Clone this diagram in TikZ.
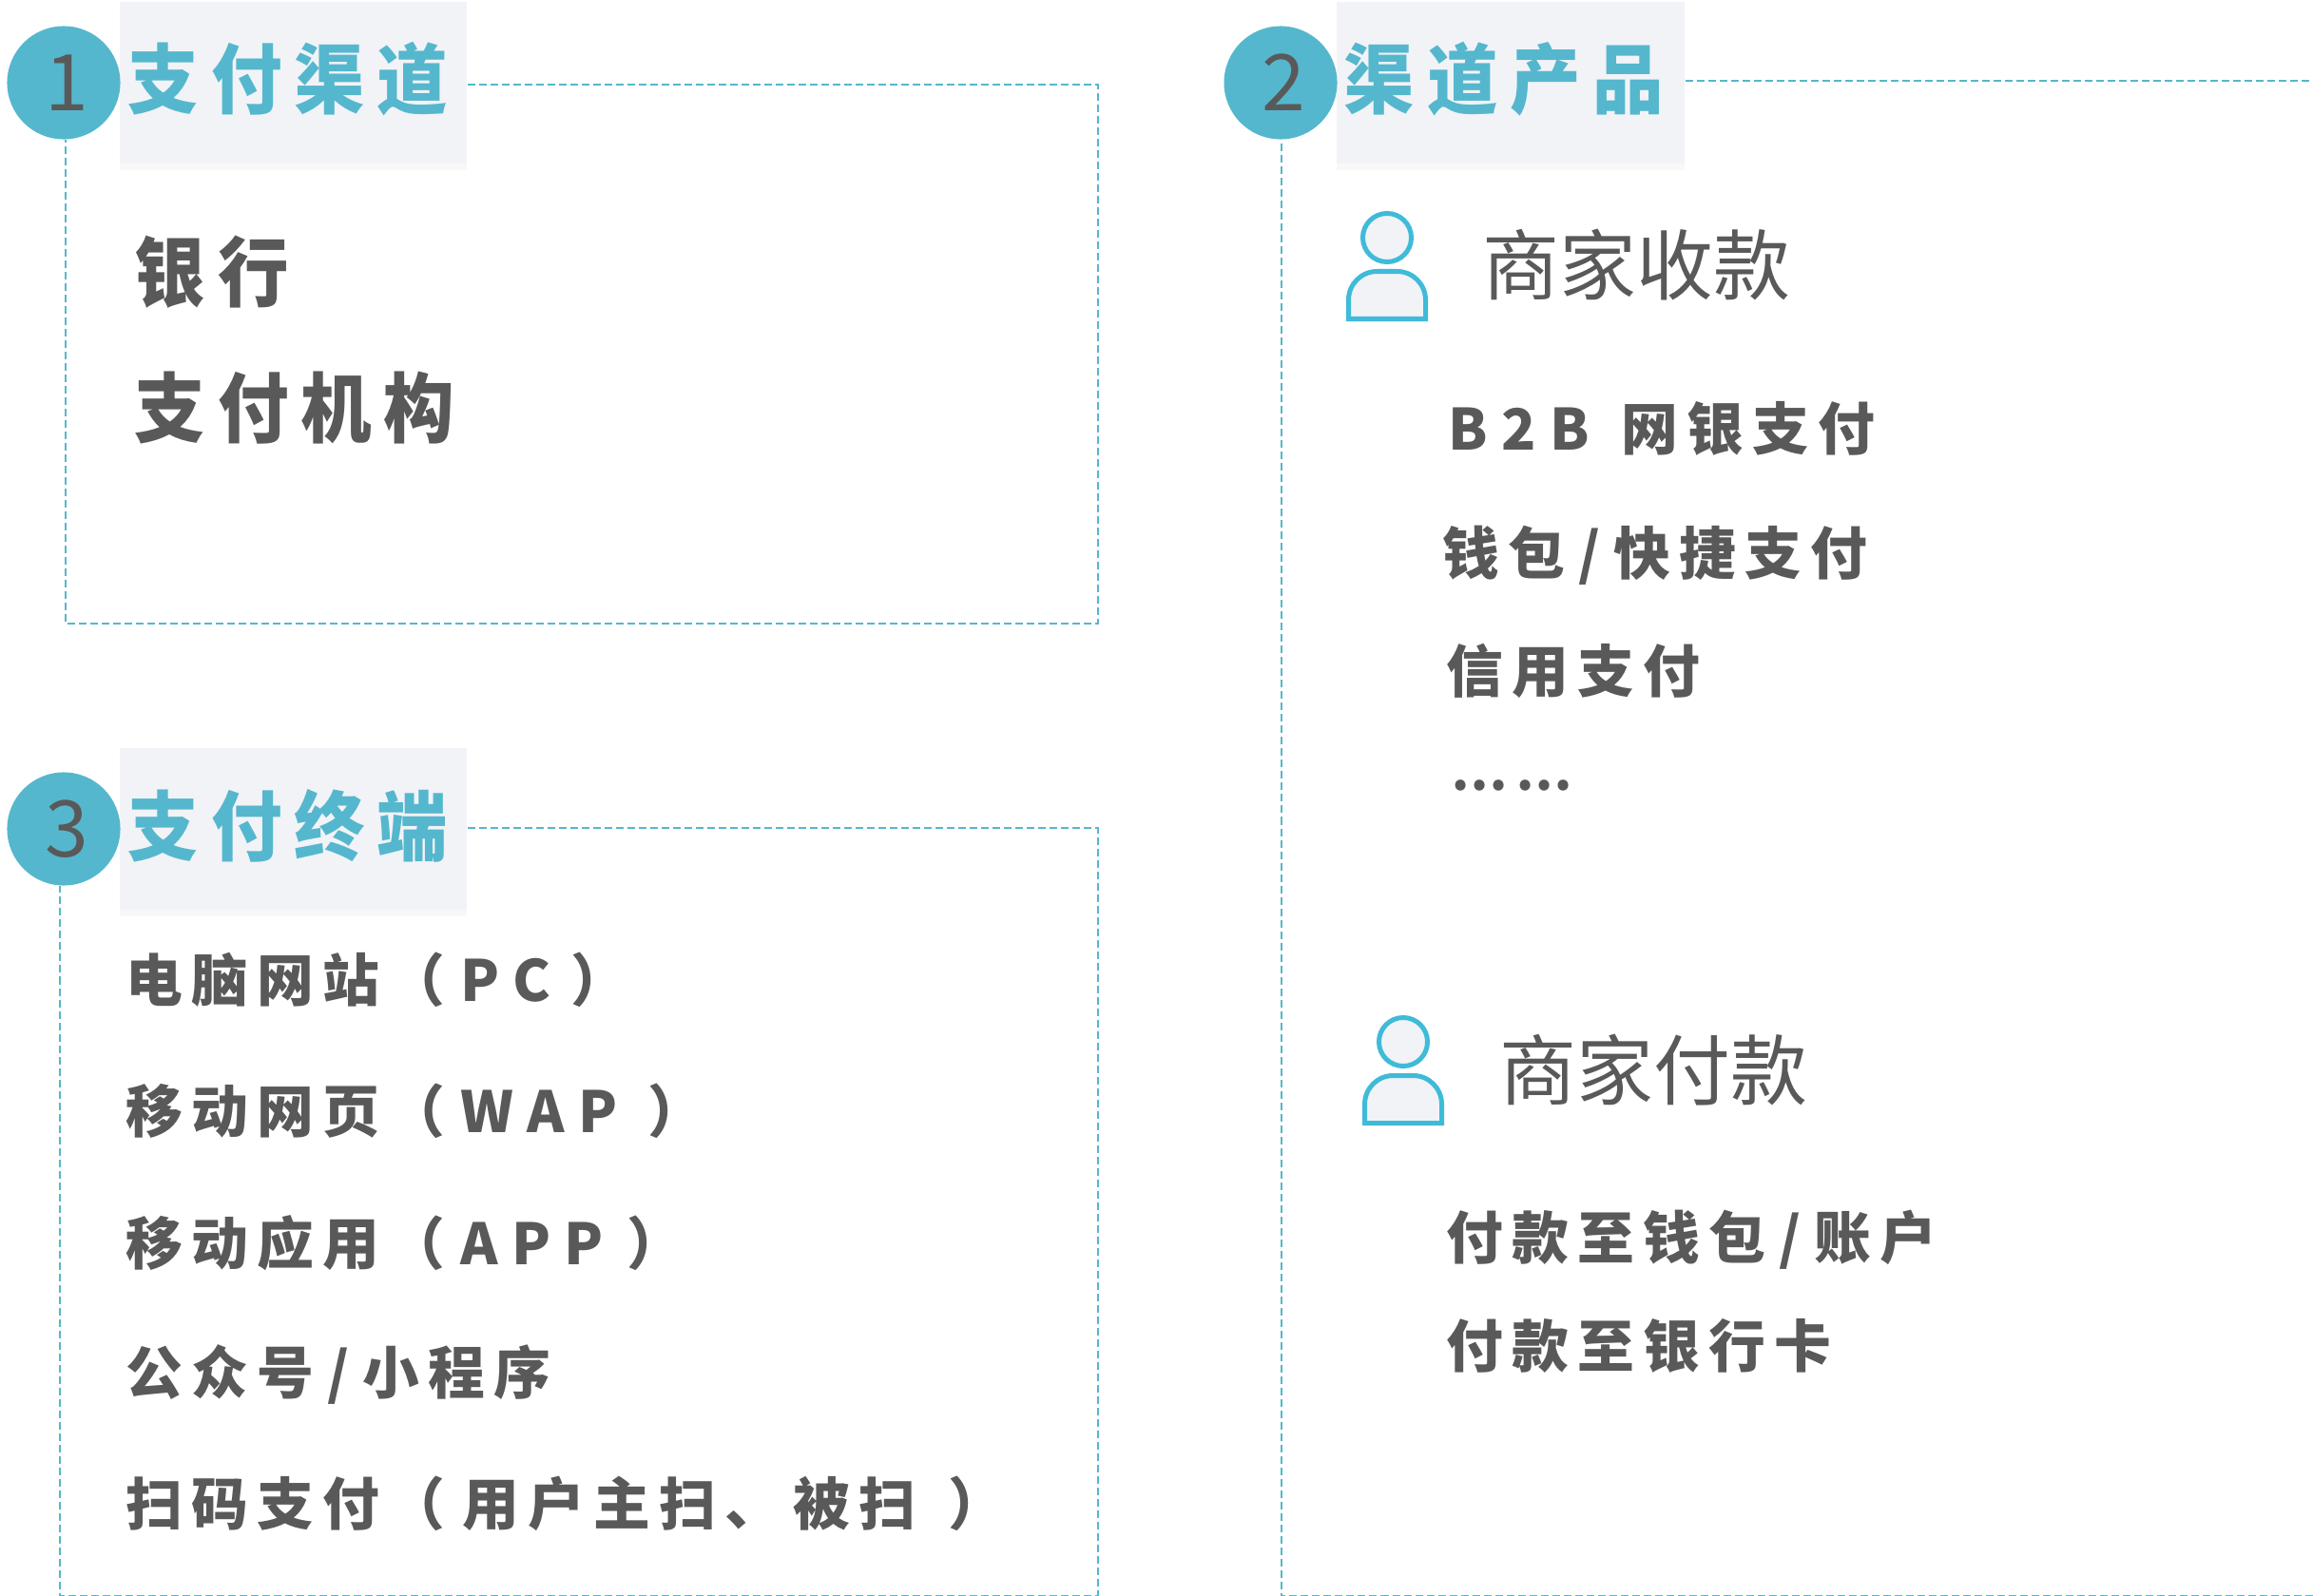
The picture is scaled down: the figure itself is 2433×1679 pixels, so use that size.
\documentclass[tikz,border=0pt]{standalone}
\usepackage{fontspec}
\setmainfont{Noto Sans CJK SC}
\newfontfamily\headfont[LetterSpace=16,FakeStretch=0.93]{Noto Sans CJK SC}
\newfontfamily\itemfont[LetterSpace=15.5]{Noto Sans CJK SC}
\newfontfamily\latfont[LetterSpace=24]{Noto Sans CJK SC}
\newcommand{\lat}[1]{{\latfont #1}}
\newcommand{\slsh}{\hspace{4pt}\lat{/}\hspace{4pt}}
\usetikzlibrary{shadows}
\definecolor{tealc}{HTML}{55B7CD}
\definecolor{iconc}{HTML}{3FBBD9}
\definecolor{palec}{HTML}{F2F3F7}
\definecolor{inkc}{HTML}{595959}

\begin{document}
\begin{tikzpicture}[x=0.01cm,y=-0.01cm,
    numdot/.style={circle, fill=tealc, text=inkc, inner sep=0pt, minimum size=1.19cm,
      font=\fontsize{23.4}{23.4}\selectfont},
    headbox/.style={rectangle, fill=palec, inner sep=0pt, minimum width=3.65cm, minimum height=1.70cm,
      drop shadow={shadow xshift=0pt, shadow yshift=-2pt, opacity=.06}},
    headtxt/.style={anchor=base west, inner sep=0pt, text=tealc,
      font=\headfont\bfseries\fontsize{22.8}{22.8}\selectfont},
    bigtxt/.style={anchor=base west, inner sep=0pt, text=inkc,
      font=\headfont\bfseries\fontsize{22.8}{22.8}\selectfont},
    itemtxt/.style={anchor=base west, inner sep=0pt, text=inkc,
      font=\itemfont\bfseries\fontsize{17}{17}\selectfont},
    usrtxt/.style={anchor=base west, inner sep=0pt, text=inkc,
      font=\fontsize{23}{23}\selectfont},
    frameline/.style={tealc, line width=0.02cm, dash pattern=on 0.08cm off 0.04cm},
    usrline/.style={iconc, fill=palec, line width=0.05cm}]

  \useasboundingbox (0,0) rectangle (2433,1679);

  % ---- section 1: channels ----
  \node[headbox] (head1) at (308.5,87) {};
  \node[numdot] (num1) at (67,87) {\hspace{1.7pt}1};
  \node[headtxt] (title1) at (134,114) {支付渠道};
  \coordinate (c1a) at (1154.5,88.7);
  \coordinate (c1b) at (1154.5,656);
  \coordinate (c1c) at (69,656);
  \draw[frameline] (head1.east |- c1a) -- (c1a) -- (c1b) -- (c1c) -- (c1c |- num1.south);
  \node[bigtxt] (bank) at (141,316) {银行};
  \node[bigtxt] (payorg) at (141,459) {支付机构};

  % ---- section 3: terminals ----
  \node[headbox] (head3) at (308.5,872) {};
  \node[numdot] (num3) at (67,872) {\hspace{1.7pt}3};
  \node[headtxt] (title3) at (134,899) {支付终端};
  \coordinate (c3a) at (1154.5,871);
  \coordinate (c3b) at (1154.5,1679);
  \coordinate (c3c) at (63,1679);
  \draw[frameline] (head3.east |- c3a) -- (c3a) -- (c3b) -- (c3c) -- (c3c |- num3.south);
  \node[itemtxt] (pc) at (132,1053) {电脑网站（\hspace{4.5pt}\lat{PC}\hspace{5.8pt}）};
  \node[itemtxt] (wap) at (132,1191) {移动网页（\hspace{4.5pt}\lat{WAP}\hspace{9pt}）};
  \node[itemtxt] (app) at (132,1330) {移动应用（\hspace{4.5pt}\lat{APP}\hspace{7pt}）};
  \node[itemtxt] (mini) at (132,1466) {公众号\slsh 小程序};
  \node[itemtxt] (scan) at (132,1604) {扫码支付（\hspace{5pt}用户主扫、\hspace{3.5pt}被扫\hspace{9.7pt}）};

  % ---- section 2: products ----
  \node[headbox, minimum width=3.66cm] (head2) at (1589,87) {};
  \node[numdot] (num2) at (1347,87) {\hspace{1.7pt}2};
  \node[headtxt] (title2) at (1413,114) {渠道产品};
  \coordinate (c2a) at (2433,84.7);
  \coordinate (c2b) at (2433,1679);
  \coordinate (c2c) at (1347.5,1679);
  \draw[frameline] (head2.east |- c2a) -- (c2a);
  \draw[frameline] (c2b) -- (c2c) -- (c2c |- num2.south);

  % ---- the two merchant icons ----
  \foreach \dx/\dy/\n in {0/0/a,17/846/b} {
    \begin{scope}[shift={(\dx,\dy)}]
      \node[usrline, draw, circle, inner sep=0pt, minimum size=0.51cm] (usr\n) at (1459,250) {};
      \draw[usrline] (1418.5,335.5) [rounded corners=0.3cm] -- (1418.5,285.5) -- (1499.5,285.5)
        [sharp corners] -- (1499.5,335.5) -- cycle;
    \end{scope}
  }

  % ---- merchant receiving ----
  \node[usrtxt] (recv) at (1559,309) {商家收款};
  \node[itemtxt] (b2b) at (1523,473) {\lat{B2B}\hspace{3pt} 网银支付};
  \node[itemtxt] (wallet) at (1517,604) {钱包\slsh 快捷支付};
  \node[itemtxt] (credit) at (1521,728) {信用支付};
  \node[itemtxt, font=\itemfont\bfseries\fontsize{15}{15}\selectfont] (more) at (1526,831) {……};

  % ---- merchant paying ----
  \node[usrtxt] (paying) at (1577,1156) {商家付款};
  \node[itemtxt] (toacct) at (1521,1324) {付款至钱包\slsh 账户};
  \node[itemtxt] (tocard) at (1521,1438) {付款至银行卡};

\end{tikzpicture}
\end{document}
